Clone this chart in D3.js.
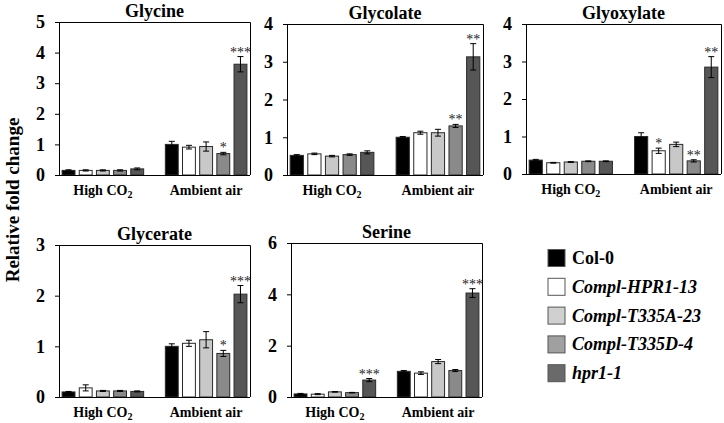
<!DOCTYPE html>
<html><head><meta charset="utf-8">
<script src="https://cdn.jsdelivr.net/npm/d3@7"></script>
<style>body{margin:0;background:#fff}svg{display:block}</style>
</head><body><svg id="c" width="724" height="423"></svg>
<script>
const groups = ["High CO2", "Ambient air"];
const genotypes = ["Col-0", "Compl-HPR1-13", "Compl-T335A-23", "Compl-T335D-4", "hpr1-1"];
const colors = ["#000000", "#ffffff", "#c8c8c8", "#8a8a8a", "#565656"];
const legendColors = ["#000000", "#ffffff", "#d0d0d0", "#a0a0a0", "#6a6a6a"];

const glycineMean = [[0.15,0.15,0.15,0.15,0.2],[1.0,0.91,0.93,0.7,3.62]];
const glycineErr  = [[0.02,0.02,0.02,0.02,0.03],[0.1,0.06,0.15,0.04,0.25]];
const glycineSig  = [["","","","",""],["","","","*","***"]];

const glycolateMean = [[0.52,0.56,0.5,0.54,0.6],[1.0,1.12,1.12,1.3,3.13]];
const glycolateErr  = [[0.02,0.02,0.02,0.02,0.04],[0.02,0.04,0.09,0.04,0.35]];
const glycolateSig  = [["","","","",""],["","","","**","**"]];

const glyoxylateMean = [[0.37,0.3,0.32,0.34,0.34],[1.0,0.62,0.79,0.35,2.85]];
const glyoxylateErr  = [[0.02,0.01,0.01,0.01,0.01],[0.1,0.07,0.06,0.03,0.28]];
const glyoxylateSig  = [["","","","",""],["","*","","**","**"]];

const glycerateMean = [[0.1,0.18,0.12,0.12,0.11],[1.0,1.06,1.13,0.86,2.03]];
const glycerateErr  = [[0.01,0.06,0.01,0.01,0.01],[0.05,0.06,0.16,0.06,0.17]];
const glycerateSig  = [["","","","",""],["","","","*","***"]];

const serineMean = [[0.12,0.11,0.2,0.17,0.66],[1.0,0.93,1.38,1.03,4.05]];
const serineErr  = [[0.02,0.02,0.01,0.01,0.06],[0.03,0.05,0.08,0.04,0.17]];
const serineSig  = [["","","","","***"],["","","","","***"]];

const panels = [
  {title:"Glycine", mean:glycineMean, err:glycineErr, sig:glycineSig, ymax:5, step:1, x0:59, x1:250, y0:22, y1:175},
  {title:"Glycolate", mean:glycolateMean, err:glycolateErr, sig:glycolateSig, ymax:4, step:1, x0:287, x1:483, y0:24, y1:175},
  {title:"Glyoxylate", mean:glyoxylateMean, err:glyoxylateErr, sig:glyoxylateSig, ymax:4, step:1, x0:526, x1:721, y0:24, y1:174},
  {title:"Glycerate", mean:glycerateMean, err:glycerateErr, sig:glycerateSig, ymax:3, step:1, x0:59, x1:250, y0:245, y1:397},
  {title:"Serine", mean:serineMean, err:serineErr, sig:serineSig, ymax:6, step:2, x0:291, x1:482, y0:243, y1:397}
];

const FONT = "Liberation Serif";
const svg = d3.select("#c");
function txt(sel, size, weight) {
  return sel.attr("font-family", FONT).attr("font-size", size).attr("font-weight", weight || "bold").attr("fill", "#000");
}

panels.forEach(p => {
  const g = svg.append("g");
  const x = d3.scaleBand().domain(groups).range([p.x0, p.x1]).paddingInner(0.21).paddingOuter(0.03);
  const xs = d3.scaleBand().domain(d3.range(5)).range([0, x.bandwidth()]).paddingInner(0.25).paddingOuter(0);
  const y = d3.scaleLinear().domain([0, p.ymax]).range([p.y1, p.y0]);

  g.append("path").attr("d", `M${p.x0},${p.y0 + 0.5}H${p.x1 + 0.5}V${p.y1}`).attr("fill","none").attr("stroke","#000").attr("stroke-width",1);

  groups.forEach((grp, gi) => {
    const gg = g.append("g").attr("transform", `translate(${x(grp)},0)`);
    d3.range(5).forEach(i => {
      const v = p.mean[gi][i], e = p.err[gi][i];
      const bx = xs(i), bw = xs.bandwidth();
      gg.append("rect").attr("x", bx).attr("y", y(v)).attr("width", bw).attr("height", y(0) - y(v))
        .attr("fill", colors[i]).attr("stroke", "#2a2a2a").attr("stroke-width", 1);
      const cx = bx + bw / 2;
      gg.append("line").attr("x1", cx).attr("x2", cx).attr("y1", y(v - e)).attr("y2", y(v + e)).attr("stroke", "#000").attr("stroke-width", 1);
      [v - e, v + e].forEach(t => gg.append("line").attr("x1", cx - 3).attr("x2", cx + 3).attr("y1", y(t)).attr("y2", y(t)).attr("stroke", "#000").attr("stroke-width", 1));
      const s = p.sig[gi][i];
      if (s) {
        txt(gg.append("text"), 14, "normal").attr("x", cx).attr("y", y(v + e)).attr("text-anchor", "middle").attr("fill", "#222").text(s);
      }
    });
    const lab = txt(g.append("text"), 14).attr("x", x(grp) + x.bandwidth() / 2).attr("y", p.y1 + 20).attr("text-anchor", "middle");
    if (grp === "High CO2") {
      lab.append("tspan").text("High CO");
      lab.append("tspan").attr("dy", 3).attr("font-size", 10).text("2");
    } else lab.text(grp);
  });

  g.append("line").attr("x1", p.x0).attr("x2", p.x1).attr("y1", p.y1 + 0.5).attr("y2", p.y1 + 0.5).attr("stroke", "#000");

  const ax = g.append("g").attr("transform", `translate(${p.x0},0)`)
    .call(d3.axisLeft(y).tickValues(d3.range(0, p.ymax + 0.001, p.step)).tickSize(4).tickPadding(10).tickFormat(d3.format("d")));
  ax.attr("font-family", FONT).attr("font-size", 18);
  txt(ax.selectAll("text"), 18);
  ax.selectAll("path,line").attr("stroke", "#000");

  txt(g.append("text"), 18).attr("x", (p.x0 + p.x1) / 2).attr("y", p.y0 - 5.5).attr("text-anchor", "middle").text(p.title);
});

txt(svg.append("text"), 19).attr("transform", "translate(19,200) rotate(-90)").attr("text-anchor", "middle").text("Relative fold change");

const lg = svg.append("g");
genotypes.forEach((gname, i) => {
  const cy = 258 + i * 28.8;
  lg.append("rect").attr("x", 548).attr("y", cy - 8.5).attr("width", 17).attr("height", 17).attr("fill", legendColors[i]).attr("stroke", "#555").attr("stroke-width", 1);
  txt(lg.append("text"), 18).attr("x", 572).attr("y", cy + 6).attr("font-style", i === 0 ? "normal" : "italic").text(gname);
});
</script></body></html>
